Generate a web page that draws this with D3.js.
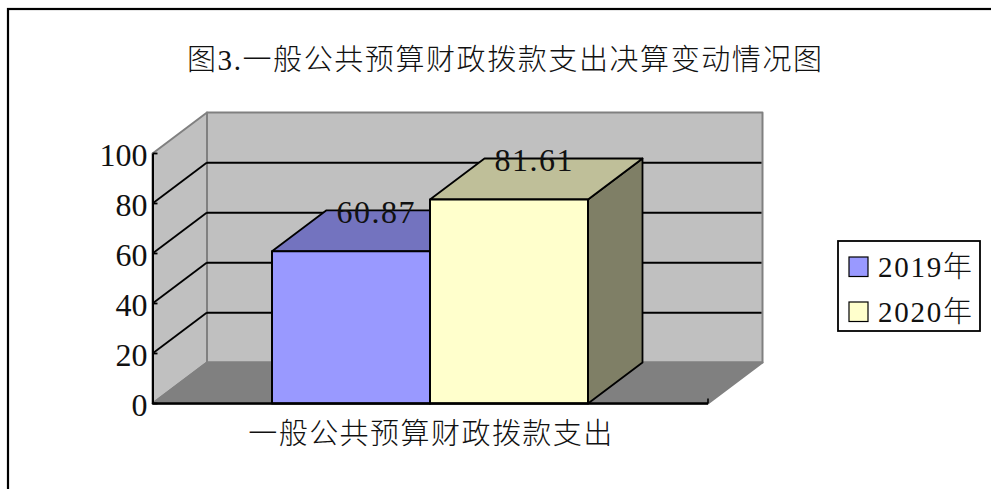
<!DOCTYPE html>
<html>
<head>
<meta charset="utf-8">
<script src="https://cdn.jsdelivr.net/npm/d3@7"></script>
<style>
  html, body { margin: 0; padding: 0; background: #fff; }
  svg { display: block; }
  text { font-family: "Liberation Serif", "Noto Sans CJK SC", serif; font-weight: 300; fill: #111; }
</style>
</head>
<body>
<div id="chart"></div>
<script>
var categories = ["一般公共预算财政拨款支出"];
var seriesNames = ["2019年", "2020年"];
var seriesValues = [60.87, 81.61];
var valueLabels = ["60.87", "81.61"];
var yTicks = [0, 20, 40, 60, 80, 100];
var titleText = "图3.一般公共预算财政拨款支出决算变动情况图";

var frontColors = ["#9999ff", "#ffffcc"];
var topColors = ["#7373bf", "#bfbf99"];
var sideColors = ["#5c5c99", "#7f7f66"];

var width = 991, height = 489;
var depthX = 54.5, depthY = -41;

var svg = d3.select("#chart").append("svg")
  .attr("width", width)
  .attr("height", height);

var y = d3.scaleLinear().domain([0, 100]).range([403.5, 153.5]);
var x = d3.scaleBand().domain(d3.range(seriesValues.length)).range([272, 588]);
var xLeft = 152.5, xRight = 708;

function poly(points, fill, stroke, sw) {
  return svg.append("polygon")
    .attr("points", points.map(function (p) { return p.join(","); }).join(" "))
    .attr("fill", fill)
    .attr("stroke", stroke)
    .attr("stroke-width", sw)
    .attr("stroke-linejoin", "round");
}
function line(x1, y1, x2, y2, stroke, sw) {
  return svg.append("line")
    .attr("x1", x1).attr("y1", y1)
    .attr("x2", x2).attr("y2", y2)
    .attr("stroke", stroke)
    .attr("stroke-width", sw);
}

// outer frame, runs off the page on the right and the bottom
svg.append("rect")
  .attr("x", 8).attr("y", 9)
  .attr("width", 1100).attr("height", 600)
  .attr("fill", "#fff").attr("stroke", "#000").attr("stroke-width", 2.2);

svg.append("text")
  .attr("x", 187).attr("y", 70)
  .attr("font-size", 29)
  .attr("textLength", 635)
  .attr("lengthAdjust", "spacing")
  .text(titleText);

// walls and floor
var y0 = y(0), y100 = y(100);
poly([[xLeft + depthX, y100 + depthY], [xRight + depthX, y100 + depthY], [xRight + depthX, y0 + depthY], [xLeft + depthX, y0 + depthY]], "#c0c0c0", "#808080", 2);
poly([[xLeft, y100], [xLeft + depthX, y100 + depthY], [xLeft + depthX, y0 + depthY], [xLeft, y0]], "#c0c0c0", "#808080", 2);
poly([[xLeft, y0], [xLeft + depthX, y0 + depthY], [xRight + depthX, y0 + depthY], [xRight, y0]], "#808080", "#808080", 2);

// gridlines on both walls
yTicks.filter(function (d) { return d > 0 && d < 100; }).forEach(function (d) {
  line(xLeft, y(d), xLeft + depthX, y(d) + depthY, "#000", 1.8);
  line(xLeft + depthX, y(d) + depthY + 0.3, xRight + depthX - 1, y(d) + depthY + 0.3, "#000", 2);
});

// bars, first one first so the second covers the shared edge
seriesValues.forEach(function (v, i) {
  var x0 = x(i), x1 = x(i) + x.bandwidth(), top = y(v);
  poly([[x1, top], [x1 + depthX, top + depthY], [x1 + depthX, y0 + depthY], [x1, y0]], sideColors[i], "#000", 1.8);
  poly([[x0, top], [x0 + depthX, top + depthY], [x1 + depthX, top + depthY], [x1, top]], topColors[i], "#000", 1.8);
  poly([[x0, top], [x1, top], [x1, y0], [x0, y0]], frontColors[i], "#000", 2);
});

// value labels
svg.selectAll("text.value")
  .data(seriesValues)
  .enter().append("text")
  .attr("class", "value")
  .attr("x", function (d, i) { return x(i) + x.bandwidth() / 2 + 24.5; })
  .attr("y", function (d) { return y(d) - 28; })
  .attr("text-anchor", "middle")
  .attr("font-size", 32)
  .attr("textLength", 78)
  .attr("lengthAdjust", "spacing")
  .text(function (d, i) { return valueLabels[i]; });

// axis lines and ticks
var axisY = d3.axisLeft(y).tickValues(yTicks).tickSize(0).tickPadding(5);
var axisG = svg.append("g")
  .attr("transform", "translate(" + xLeft + ",0)")
  .call(axisY);
axisG.select(".domain").attr("stroke", "#000").attr("stroke-width", 2);
axisG.selectAll("text").attr("font-size", 32).attr("font-family", null).attr("dy", "0.38em");
yTicks.forEach(function (d) { line(xLeft, y(d), xLeft + 5, y(d), "#000", 1.8); });
line(xLeft, y0, xRight, y0, "#000", 2.4);
line(xRight, y0, xRight, y0 - 5, "#000", 1.6);

svg.append("text")
  .attr("x", (xLeft + xRight) / 2)
  .attr("y", 444)
  .attr("text-anchor", "middle")
  .attr("font-size", 29)
  .attr("textLength", 364)
  .attr("lengthAdjust", "spacing")
  .text(categories[0]);

// legend
svg.append("rect")
  .attr("x", 838).attr("y", 241)
  .attr("width", 142).attr("height", 90)
  .attr("fill", "#fff").attr("stroke", "#000").attr("stroke-width", 1.8);
var legendY = d3.scalePoint().domain(seriesNames).range([267, 312]);
seriesNames.forEach(function (name, i) {
  svg.append("rect")
    .attr("x", 849).attr("y", legendY(name) - 10)
    .attr("width", 19).attr("height", 19.5)
    .attr("fill", frontColors[i]).attr("stroke", "#000").attr("stroke-width", 1.2);
  svg.append("text")
    .attr("x", 878).attr("y", legendY(name) + 10)
    .attr("font-size", 29)
    .attr("textLength", 94)
    .attr("lengthAdjust", "spacing")
    .text(name);
});
</script>
</body>
</html>
